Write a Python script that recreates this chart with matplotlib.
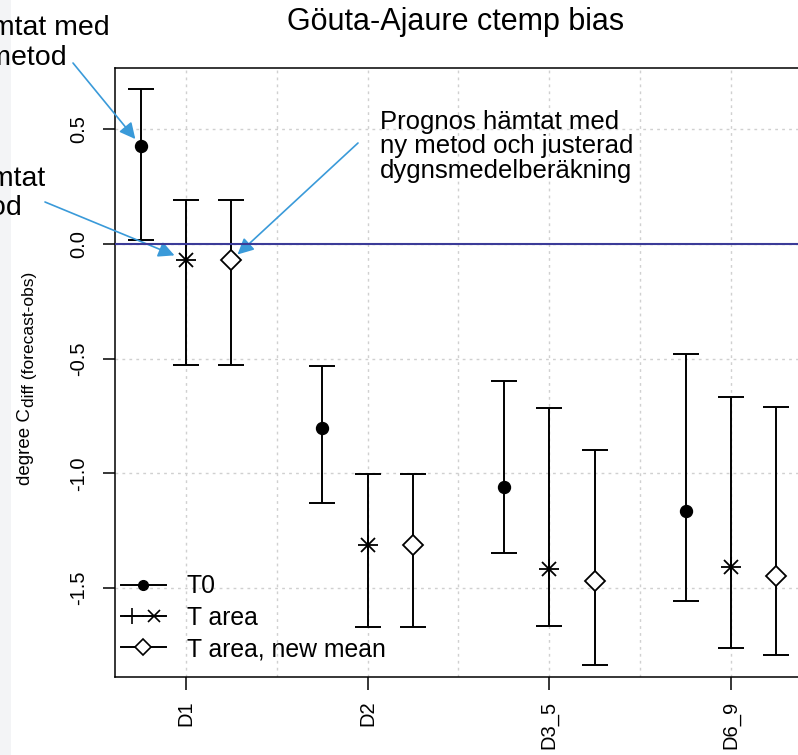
import matplotlib

matplotlib.use("Agg")
import matplotlib.pyplot as plt
import numpy as np
from matplotlib.legend_handler import HandlerTuple
from matplotlib.lines import Line2D
from matplotlib.patches import Rectangle

plt.rcParams["font.family"] = ["Liberation Sans", "DejaVu Sans"]

# --- data ---
groups = ["D1", "D2", "D3_5", "D6_9"]

t0_mean = [0.43, -0.80, -1.06, -1.165]
t0_low = [0.02, -1.13, -1.348, -1.555]
t0_high = [0.675, -0.532, -0.597, -0.48]

tarea_mean = [-0.07, -1.313, -1.417, -1.41]
tarea_low = [-0.528, -1.67, -1.666, -1.76]
tarea_high = [0.192, -1.003, -0.715, -0.667]

newmean_mean = [-0.07, -1.313, -1.47, -1.447]
newmean_low = [-0.528, -1.67, -1.836, -1.79]
newmean_high = [0.192, -1.003, -0.898, -0.711]

W, H = 798, 755
ARROW = "#3a9ad9"
GRID = "#d0d0d0"

fig = plt.figure(figsize=(W / 100, H / 100), dpi=100)
fig.add_artist(Rectangle((0, 0), 11 / W, 1, transform=fig.transFigure,
                         facecolor="#f3f4f6", edgecolor="none", zorder=0))

ax = fig.add_axes([115 / W, 1 - 677 / H, (W - 115) / W, (677 - 68) / H])
ax.set_xlim(0.609, 4.369)
ax.set_ylim(-1.888, 0.768)

x = np.arange(1, len(groups) + 1)
offset = 0.25


def draw_series(xs, mean, low, high):
    mean = np.asarray(mean)
    yerr = [mean - np.asarray(low), np.asarray(high) - mean]
    ax.errorbar(xs, mean, yerr=yerr, fmt="none", ecolor="black",
                elinewidth=1.4, capsize=9.4, capthick=1.4, zorder=3)


draw_series(x - offset, t0_mean, t0_low, t0_high)
draw_series(x, tarea_mean, tarea_low, tarea_high)
draw_series(x + offset, newmean_mean, newmean_low, newmean_high)

ax.plot(x - offset, t0_mean, "o", color="black", ms=8.6, zorder=5)
ax.plot(x, tarea_mean, "+", color="black", ms=15, mew=1.3, zorder=5)
ax.plot(x, tarea_mean, "x", color="black", ms=10.6, mew=1.3, zorder=5)
ax.plot(x + offset, newmean_mean, "D", mfc="white", mec="black", ms=10,
        mew=1.3, zorder=5)

ax.axhline(0, color="#3b3b98", lw=1.5, zorder=4)

# grid & axes
ax.set_xticks(x)
ax.set_xticks(np.arange(1.5, 4.5, 1.0), minor=True)
ax.set_xticklabels(groups, rotation=90, ha="center", va="top", fontsize=14.5)
yt = [-1.5, -1.0, -0.5, 0.0, 0.5]
ax.set_yticks(yt)
ax.set_yticklabels([f"{v:.1f}" for v in yt], rotation=90, va="center",
                   fontsize=14.5)
ax.grid(which="both", color=GRID, linestyle=(0, (2, 3)), linewidth=1)
ax.set_axisbelow(True)
ax.tick_params(which="major", length=9, width=1.1, direction="out", pad=10)
ax.tick_params(axis="x", which="major", pad=8)
ax.tick_params(which="minor", length=0)
for side in ("left", "top", "bottom"):
    ax.spines[side].set_linewidth(1.1)
ax.spines["right"].set_visible(False)

# legend
star = (Line2D([], [], color="black", lw=1.4, marker="+", ms=12, mew=1.2),
        Line2D([], [], color="black", lw=1.4, marker="x", ms=8.5, mew=1.2))
handles = [
    Line2D([], [], color="black", lw=1.4, marker="o", ms=7),
    star,
    Line2D([], [], color="black", lw=1.4, marker="D", mfc="white", ms=8, mew=1.2),
]
ax.legend(handles, ["T0", "T area", "T area, new mean"],
          handler_map={tuple: HandlerTuple(ndivide=None)},
          loc="lower left", bbox_to_anchor=(121 / W, 1 - 661 / H),
          bbox_transform=fig.transFigure, frameon=False, fontsize=17.8,
          handlelength=1.8, handletextpad=0.85, labelspacing=0.3,
          borderpad=0, borderaxespad=0)

# title & y label
fig.text(456 / W, 1 - 22 / H, "Göuta-Ajaure ctemp bias", ha="center",
         va="center", fontsize=22)
fig.text(25 / W, 1 - 485 / H, "degree C", rotation=90, ha="center",
         va="bottom", fontsize=13.5)
fig.text(30 / W, 1 - 407 / H, "diff (forecast-obs)", rotation=90,
         ha="center", va="bottom", fontsize=12.5)


# annotations
def note(lines, anchor_x, baselines, ha, size=18.5):
    for text, yb in zip(lines, baselines):
        fig.text(anchor_x / W, 1 - yb / H, text, ha=ha, va="baseline",
                 fontsize=size)


note(["Prognos hämtat med"], 110, [35], "right", 20.5)
note(["gammal metod"], 67, [65], "right", 20.5)
note(["Prognos hämtat"], 45, [186], "right", 20.5)
note(["med ny metod"], 22, [215], "right", 20.5)
note(["Prognos hämtat med", "ny metod och justerad", "dygnsmedelberäkning"],
     380, [129, 153.5, 178], "left")

arrow_kw = dict(arrowstyle="-|>", color=ARROW, lw=1.2, mutation_scale=24,
                shrinkA=0, shrinkB=6)
ax.annotate("", xy=(x[0] - offset, t0_mean[0]), xycoords="data",
            xytext=(73, H - 63), textcoords="figure pixels", arrowprops=arrow_kw)
ax.annotate("", xy=(x[0], tarea_mean[0]), xycoords="data",
            xytext=(45, H - 202), textcoords="figure pixels",
            arrowprops=dict(arrow_kw, shrinkB=9))
ax.annotate("", xy=(x[0] + offset, newmean_mean[0]), xycoords="data",
            xytext=(358, H - 143), textcoords="figure pixels", arrowprops=arrow_kw)

fig.savefig("out.png", dpi=100)
